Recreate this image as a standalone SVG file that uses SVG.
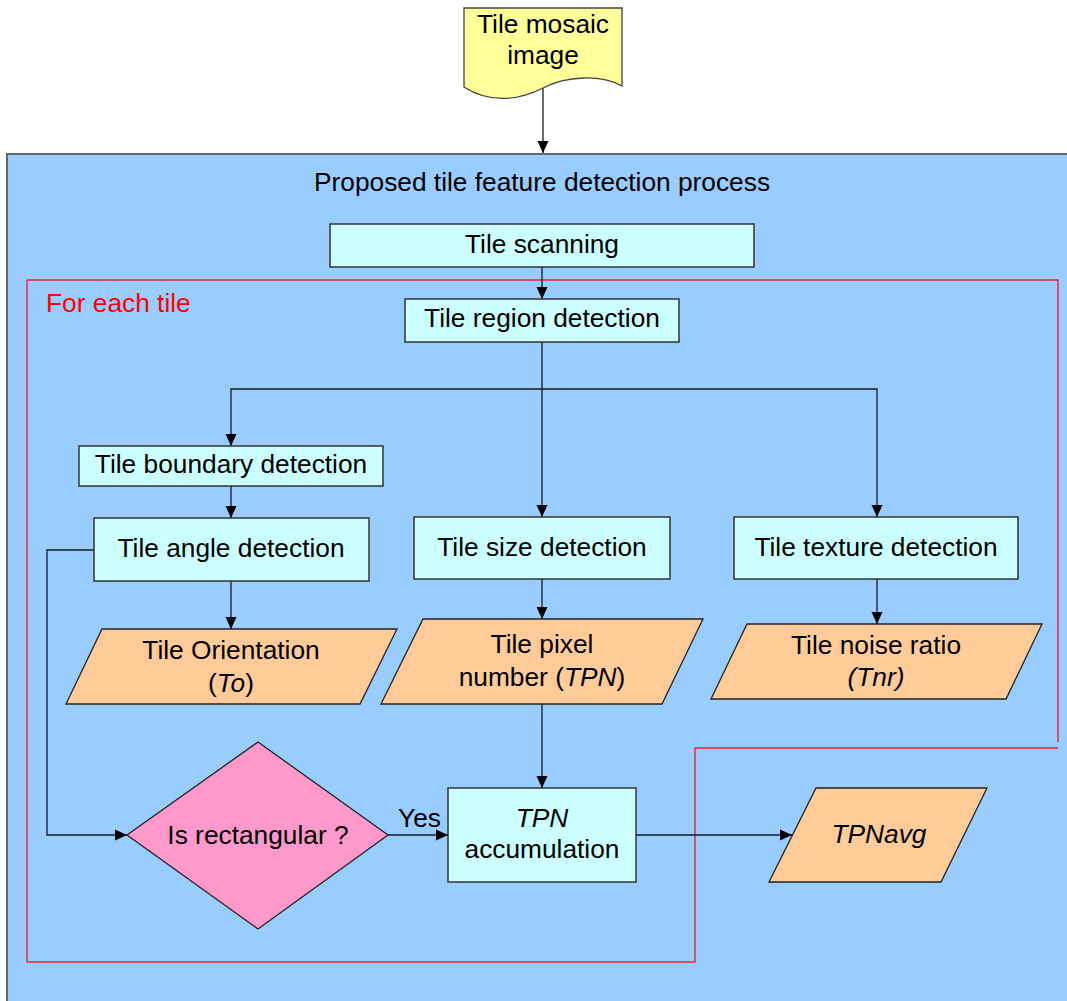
<svg xmlns="http://www.w3.org/2000/svg" width="1067" height="1001" viewBox="0 0 1067 1001">
  <style>
    text { font-family: "Liberation Sans", Arial, sans-serif; font-size: 26.3px; fill: #000; text-anchor: middle; }
    .it { font-style: italic; }
    .proc { fill: #CCFFFF; stroke: #333; stroke-width: 1.5; }
    .data { fill: #FFCC99; stroke: #222; stroke-width: 1.3; }
    .decision { fill: #FF99CC; stroke: #222; stroke-width: 1.3; }
    .doc { fill: #FFFF99; stroke: #444; stroke-width: 1.3; }
    .wire { fill: none; stroke: #1a1a1a; stroke-width: 1.3; }
    .loop { fill: none; stroke: #F0203A; stroke-width: 1.4; }
  </style>
  <defs>
    <marker id="arrow" markerUnits="userSpaceOnUse" markerWidth="13" markerHeight="12" refX="12" refY="6" orient="auto">
      <path d="M0,0.5 L12,6 L0,11.5 Z" fill="#000"/>
    </marker>
  </defs>

  <rect width="1067" height="1001" fill="#FFFFFF"/>

  <!-- process container -->
  <g id="container">
    <rect x="7" y="154" width="1080" height="870" fill="#99CCFF" stroke="#666" stroke-width="2"/>
    <text x="542" y="191">Proposed tile feature detection process</text>
  </g>

  <!-- per-tile loop boundary -->
  <g id="loop">
    <path class="loop" d="M27,280 H1058 V742 M1058,748 H695 V962 H27 V280"/>
    <text x="46" y="312" style="text-anchor:start; fill:#FF0000">For each tile</text>
  </g>

  <!-- connectors -->
  <g id="connectors">
    <path class="wire" d="M543,88 V153" marker-end="url(#arrow)"/>
    <path class="wire" d="M542,267 V299" marker-end="url(#arrow)"/>
    <path class="wire" d="M542,342 V517" marker-end="url(#arrow)"/>
    <path class="wire" d="M542,389 H231 V446" marker-end="url(#arrow)"/>
    <path class="wire" d="M542,389 H877 V517" marker-end="url(#arrow)"/>
    <path class="wire" d="M231,486 V518" marker-end="url(#arrow)"/>
    <path class="wire" d="M231,581 V629" marker-end="url(#arrow)"/>
    <path class="wire" d="M542,579 V619" marker-end="url(#arrow)"/>
    <path class="wire" d="M877,579 V624" marker-end="url(#arrow)"/>
    <path class="wire" d="M542,704 V788" marker-end="url(#arrow)"/>
    <path class="wire" d="M94,550 H47 V835 H127" marker-end="url(#arrow)"/>
    <path class="wire" d="M388,835 H448" marker-end="url(#arrow)"/>
    <path class="wire" d="M636,835 H792" marker-end="url(#arrow)"/>
    <text x="398" y="827" style="text-anchor:start">Yes</text>
  </g>

  <!-- input document -->
  <g id="tile-mosaic-image">
    <path class="doc" d="M464,8 H622 V86 C600,74 566,76 543,88 C520,100 490,104 464,87 Z"/>
    <text x="543" y="33">Tile mosaic</text>
    <text x="543" y="64">image</text>
  </g>

  <g id="tile-scanning">
    <rect class="proc" x="330" y="224" width="424" height="43"/>
    <text x="542" y="253">Tile scanning</text>
  </g>

  <g id="tile-region-detection">
    <rect class="proc" x="405" y="299" width="274" height="43"/>
    <text x="542" y="327">Tile region detection</text>
  </g>

  <g id="tile-boundary-detection">
    <rect class="proc" x="79" y="446" width="304" height="40"/>
    <text x="231" y="473">Tile boundary detection</text>
  </g>

  <g id="tile-angle-detection">
    <rect class="proc" x="94" y="518" width="275" height="63"/>
    <text x="231" y="557">Tile angle detection</text>
  </g>

  <g id="tile-size-detection">
    <rect class="proc" x="414" y="517" width="256" height="62"/>
    <text x="542" y="556">Tile size detection</text>
  </g>

  <g id="tile-texture-detection">
    <rect class="proc" x="734" y="517" width="284" height="62"/>
    <text x="876" y="556">Tile texture detection</text>
  </g>

  <g id="tile-orientation">
    <polygon class="data" points="102,629 397,629 360,704 66,704"/>
    <text x="231" y="659">Tile Orientation</text>
    <text x="231" y="692">(<tspan class="it">To</tspan>)</text>
  </g>

  <g id="tile-pixel-number">
    <polygon class="data" points="423,619 703,619 662,704 381,704"/>
    <text x="542" y="653">Tile pixel</text>
    <text x="542" y="686">number (<tspan class="it">TPN</tspan>)</text>
  </g>

  <g id="tile-noise-ratio">
    <polygon class="data" points="747,624 1042,624 1006,699 711,699"/>
    <text x="876" y="654">Tile noise ratio</text>
    <text x="876" y="686" class="it">(Tnr)</text>
  </g>

  <g id="is-rectangular">
    <polygon class="decision" points="258,742 388,835 258,929 127,835"/>
    <text x="258" y="844">Is rectangular ?</text>
  </g>

  <g id="tpn-accumulation">
    <rect class="proc" x="448" y="788" width="188" height="94"/>
    <text x="542" y="827" class="it">TPN</text>
    <text x="542" y="858">accumulation</text>
  </g>

  <g id="tpn-avg">
    <polygon class="data" points="816,788 987,788 941,882 769,882"/>
    <text x="879" y="843" class="it">TPNavg</text>
  </g>
</svg>
